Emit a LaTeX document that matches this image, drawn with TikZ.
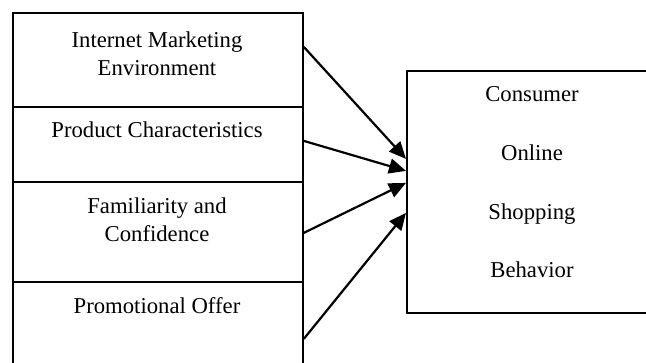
\documentclass[tikz,border=0pt]{standalone}
\usepackage{fontspec}
\setmainfont{Liberation Serif}
\usetikzlibrary{arrows.meta}

\tikzset{
  cell/.style={draw,line width=1.8pt,rectangle,anchor=north west,inner sep=0pt,minimum width=290pt},
  caption/.style={anchor=north,inner sep=0pt,align=center,font=\fontsize{22.7}{28}\selectfont},
  link/.style={-{Triangle[length=17pt,width=15pt]},line width=2.2pt},
}

\begin{document}
\begin{tikzpicture}[x=1pt,y=-1pt]
\useasboundingbox (0,0) rectangle (646,363);
\clip (0,0) rectangle (646,363);

\node (imk) at (12,12)[cell,minimum height=94pt] {};
\node (prc) at (12,106)[cell,minimum height=75pt] {};
\node (fac) at (12,181)[cell,minimum height=100pt] {};
\node (pro) at (12,281)[cell,minimum height=114pt] {};
\node (cob) at (406,70)[cell,minimum width=252pt,minimum height=242pt] {};

\node (imktext) at (157,31.5)[caption] {Internet Marketing\\Environment};
\node (prctext) at (157,121.5)[caption] {Product Characteristics};
\node (factext) at (157,197.5)[caption] {Familiarity and\\Confidence};
\node (protext) at (157,297.5)[caption] {Promotional Offer};
\node (cobtext) at (532,86.5)[caption,font=\fontsize{22.7}{58.7}\selectfont] {Consumer\\Online\\Shopping\\Behavior};

\draw [link] ([yshift=13pt]imk.east) to ([yshift=33pt]cob.west);
\draw [link] ([yshift=3.5pt]prc.east) to ([yshift=21pt]cob.west);
\draw [link] ([yshift=-1pt]fac.east) to ([yshift=9pt]cob.west);
\draw [link] (pro.east) to ([yshift=-21pt]cob.west);
\end{tikzpicture}
\end{document}
